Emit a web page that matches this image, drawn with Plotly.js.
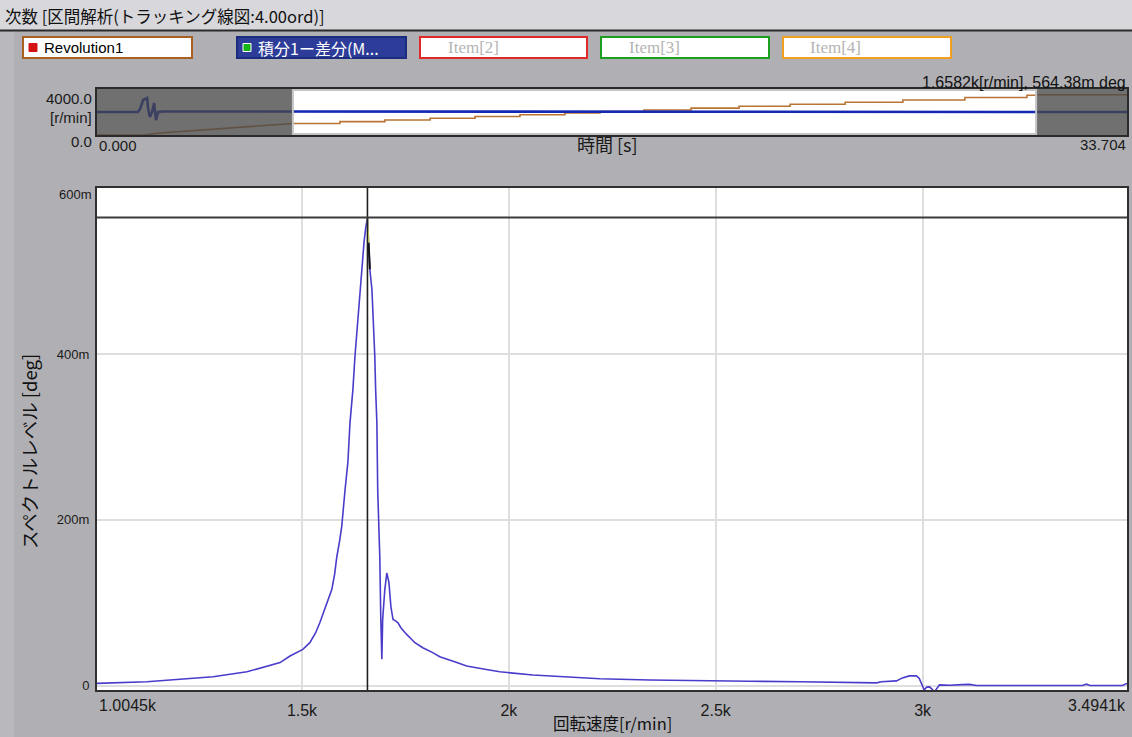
<!DOCTYPE html>
<html><head><meta charset="utf-8">
<script src="https://cdn.plot.ly/plotly-3.0.1.min.js"></script>
<style>html,body{margin:0;padding:0;background:#b0b0b4;overflow:hidden}#chart{width:1132px;height:737px}</style>
</head><body><div id="chart"></div>
<script>
// ---------- text ----------
const chartTitle = '次数 [区間解析(トラッキング線図:4.00ord)]';
const xTitle = '回転速度[r/min]';
const yTitle = 'スペクトルレベル [deg]';
const readout = '1.6582k[r/min], 564.38m deg';
const legendNames = ['Revolution1', '積分1ー差分(M...', 'Item[2]', 'Item[3]', 'Item[4]'];

// ---------- main spectrum (r/min vs mdeg) ----------
const speedRpm = [1004.5, 1060, 1125, 1205, 1285, 1367, 1415, 1447, 1471, 1488, 1502, 1519, 1533, 1543, 1555, 1567, 1572, 1579, 1584, 1591, 1596, 1604, 1611, 1616, 1623, 1628, 1635, 1640, 1645, 1650, 1654, 1658.2, 1661, 1664, 1669, 1674, 1676, 1678, 1681, 1683, 1686, 1688, 1690.5, 1693, 1695, 1700, 1705, 1710, 1715, 1720, 1727, 1732, 1739, 1753, 1773, 1792, 1816, 1833, 1869, 1898, 1942, 1978, 2058, 2140, 2220, 2340, 2461, 2582, 2703, 2823, 2889, 2900, 2915, 2937, 2951, 2968, 2985, 2992, 3004, 3010, 3017, 3023, 3029, 3041, 3065, 3096, 3113, 3130, 3200, 3300, 3386, 3396, 3405, 3483, 3494.1];
const levelMdeg = [3, 4, 5, 8, 11, 17, 24, 28, 36, 40, 44, 52, 64, 76, 92, 107, 116, 135, 155, 175, 192, 236, 270, 317, 357, 397, 440, 478, 510, 535, 552, 564.38, 534, 502, 478, 430, 397, 357, 317, 236, 195, 156, 80, 32, 80, 115, 136, 125, 95, 80, 78, 76, 70, 62, 52, 46, 40, 35, 29, 24, 20, 17, 13, 11, 8.5, 7, 6, 5.5, 5, 4.5, 3.6, 5, 5.5, 6, 9.6, 12, 12, 9, -5, -1.5, -1.2, -4, -7, 1.2, 0.8, 1.5, 1.8, 0.5, 0.5, 0.5, 0.5, 2, 0.5, 0.5, 3];
const xMin = 1004.5, xMax = 3494.1;
const xTickVals = [1500, 2000, 2500, 3000];
const xTickText = ['1.5k', '2k', '2.5k', '3k'];
const xEndLabels = ['1.0045k', '3.4941k'];
const yMin = -5, yMax = 600;
const yTickVals = [0, 200, 400];
const yTickText = ['0', '200m', '400m'];
const yTopLabel = '600m';
const cursorRpm = 1658.2, cursorLevel = 564.38;

// ---------- overview (time vs r/min) ----------
const timeMax = 33.704, rpmMax = 4000;
const selStart = 6.41, selEnd = 30.73;
const revTime = [0, 1.5, 2.06, 3.37, 5.0, 6.41, 7.95, 9.42, 10.90, 12.37, 13.84, 15.31, 16.46, 17.90, 19.44, 21.01, 22.68, 24.48, 26.37, 28.40, 30.43, 30.73, 33.704];
const revRpm = [0, 0, 174, 435, 760, 1005, 1160, 1310, 1460, 1610, 1760, 1910, 2030, 2180, 2340, 2500, 2670, 2850, 3045, 3255, 3460, 3494, 3520];
const intTime = [0, 1.34, 1.41, 1.51, 1.64, 1.67, 1.73, 1.80, 1.87, 1.93, 2.00, 2.16, 33.704];
const intValue = [2000, 2000, 2260, 3040, 3217, 2350, 1565, 2000, 2780, 1300, 2000, 2050, 2000];
const ovYLabels = ['4000.0', '[r/min]', '0.0'];
const ovXLabels = ['0.000', '時間 [s]', '33.704'];

// ---------- geometry helpers (pixel -> paper) ----------
const W = 1132, H = 737, ML = 97, MR = 5, MT = 89, MB = 47;
const PW = W - ML - MR, PH = H - MT - MB;
const px = v => (v - ML) / PW;
const py = v => (H - MB - v) / PH;

const latin = 'Liberation Sans, Arial, sans-serif';
const cjk = 'Noto Sans CJK JP, Liberation Sans, sans-serif';
const serif = 'Liberation Serif, serif';

const peakIdx = levelMdeg.indexOf(Math.max(...levelMdeg));
const rampEnd = revTime.indexOf(selStart);

const traces = [
  {x: speedRpm, y: levelMdeg, xaxis: 'x', yaxis: 'y', mode: 'lines',
   line: {color: '#4a3ccb', width: 1.6}, hoverinfo: 'x+y'},
  {x: speedRpm.slice(peakIdx, peakIdx + 2), y: levelMdeg.slice(peakIdx, peakIdx + 2), xaxis: 'x', yaxis: 'y',
   mode: 'lines', line: {color: '#e8e860', width: 1.6}, hoverinfo: 'skip'},
  {x: speedRpm.slice(peakIdx + 1, peakIdx + 3), y: levelMdeg.slice(peakIdx + 1, peakIdx + 3), xaxis: 'x', yaxis: 'y',
   mode: 'lines', line: {color: '#101010', width: 2}, hoverinfo: 'skip'},
  {x: revTime.slice(0, rampEnd + 1), y: revRpm.slice(0, rampEnd + 1), xaxis: 'x2', yaxis: 'y2', mode: 'lines',
   line: {color: '#b87434', width: 1.6}, hoverinfo: 'skip'},
  {x: revTime.slice(rampEnd), y: revRpm.slice(rampEnd), xaxis: 'x2', yaxis: 'y2', mode: 'lines',
   line: {color: '#b87434', width: 1.6, shape: 'hv'}, hoverinfo: 'skip'},
  {x: intTime, y: intValue, xaxis: 'x2', yaxis: 'y2', mode: 'lines',
   line: {color: '#1428b4', width: 2.6}, hoverinfo: 'skip'}
];

const shapes = [
  // title bar
  {type: 'rect', xref: 'paper', yref: 'paper', x0: px(0), x1: px(W), y0: py(0), y1: py(30),
   fillcolor: '#d8d8dc', line: {width: 0}, layer: 'below'},
  {type: 'line', xref: 'paper', yref: 'paper', x0: px(0), x1: px(W), y0: py(30.5), y1: py(30.5),
   line: {color: '#2a2a2a', width: 2}},
  {type: 'rect', xref: 'paper', yref: 'paper', x0: px(0), x1: px(14), y0: py(32), y1: py(H),
   fillcolor: '#b9b9bd', line: {width: 0}, layer: 'below'},
  // overview shading
  {type: 'rect', xref: 'x2', yref: 'y2 domain', x0: 0, x1: selStart, y0: 0, y1: 1,
   fillcolor: 'rgba(72,72,72,0.78)', line: {width: 0}, layer: 'above'},
  {type: 'rect', xref: 'x2', yref: 'y2 domain', x0: selEnd, x1: timeMax, y0: 0, y1: 1,
   fillcolor: 'rgba(72,72,72,0.78)', line: {width: 0}, layer: 'above'},
  {type: 'rect', xref: 'x2', yref: 'y2 domain', x0: selStart, x1: selEnd, y0: 0.02, y1: 0.98,
   line: {color: '#c4c4c4', width: 2}, layer: 'above'},
  // cursor
  {type: 'line', xref: 'x', yref: 'y domain', x0: cursorRpm, x1: cursorRpm, y0: 0, y1: 1,
   line: {color: '#202020', width: 1.6}},
  {type: 'line', xref: 'x domain', yref: 'y', x0: 0, x1: 1, y0: cursorLevel, y1: cursorLevel,
   line: {color: '#3c3c3c', width: 2}}
];

// legend boxes
const boxX = [[23, 192], [237, 406], [420, 587], [601, 769], [783, 951]];
const boxBorder = ['#a86020', '#1c2c7c', '#e02828', '#1e9e1e', '#f0a020'];
const boxFill = ['#ffffff', '#2c3c98', '#ffffff', '#ffffff', '#ffffff'];
const boxText = ['#000000', '#ffffff', '#b4b4b4', '#b4b4b4', '#b4b4b4'];
const markColor = ['#d41414', '#14b414'];
boxX.forEach((b, i) => {
  shapes.push({type: 'rect', xref: 'paper', yref: 'paper', x0: px(b[0]), x1: px(b[1]), y0: py(37), y1: py(58),
    fillcolor: boxFill[i], line: {color: boxBorder[i], width: 2}});
  if (i < 2) shapes.push({type: 'rect', xref: 'paper', yref: 'paper', x0: px(b[0] + 6), x1: px(b[0] + 14),
    y0: py(43.5), y1: py(51.5), fillcolor: markColor[i], line: {color: i === 1 ? '#ffffff' : markColor[i], width: 1}});
});

const ann = (text, x, y, xa, family, size, color, extra) => Object.assign({text, xref: 'paper', yref: 'paper',
  x: px(x), y: py(y), xanchor: xa, yanchor: 'middle', showarrow: false,
  font: {family, size, color}}, extra || {});

const annotations = [
  ann(chartTitle, 3, 16, 'left', cjk, 16.5, '#111'),
  ann(readout, 1128, 82, 'right', latin, 16, '#111'),
  ann(legendNames[0], 42, 47.5, 'left', latin, 15, boxText[0]),
  ann(legendNames[1], 256, 47.5, 'left', cjk, 16, boxText[1]),
  ann(legendNames[2], 446, 47.5, 'left', serif, 17, boxText[2]),
  ann(legendNames[3], 627, 47.5, 'left', serif, 17, boxText[3]),
  ann(legendNames[4], 808, 47.5, 'left', serif, 17, boxText[4]),
  ann(ovYLabels[0], 94, 99, 'right', latin, 15, '#1a1a1a'),
  ann(ovYLabels[1], 94, 118, 'right', latin, 15, '#1a1a1a'),
  ann(ovYLabels[2], 94, 141, 'right', latin, 15, '#1a1a1a'),
  ann(ovXLabels[0], 97, 145, 'left', latin, 15, '#1a1a1a'),
  ann(ovXLabels[1], 607, 144, 'center', cjk, 18, '#1a1a1a'),
  ann(ovXLabels[2], 1128, 144, 'right', latin, 15, '#1a1a1a'),
  ann(yTopLabel, 94, 195, 'right', latin, 13, '#1a1a1a'),
  ann(xEndLabels[0], 97, 705, 'left', latin, 16, '#1a1a1a'),
  ann(xEndLabels[1], 1128, 705, 'right', latin, 16, '#1a1a1a'),
  ann(xTitle, 612, 723, 'center', cjk, 16.5, '#111'),
  ann(yTitle, 29, 452, 'center', cjk, 18.5, '#111', {textangle: -90})
];

const layout = {
  width: W, height: H,
  margin: {l: ML, r: MR, t: MT, b: MB, pad: 0},
  paper_bgcolor: '#b0b0b4', plot_bgcolor: '#ffffff',
  showlegend: false,
  font: {family: latin, size: 14, color: '#1a1a1a'},
  xaxis: {domain: [0, 1], anchor: 'y', range: [xMin, xMax], tickvals: xTickVals, ticktext: xTickText,
    showgrid: true, gridcolor: '#dedede', gridwidth: 1.5, zeroline: false, showline: true, mirror: true,
    linecolor: '#303030', linewidth: 2, ticks: '', ticklabelstandoff: 5,
    tickfont: {family: latin, size: 16, color: '#1a1a1a'}},
  yaxis: {domain: [0, py(188)], anchor: 'x', range: [yMin, yMax], tickvals: yTickVals, ticktext: yTickText,
    showgrid: true, gridcolor: '#dedede', gridwidth: 1.5, zeroline: false, showline: true, mirror: true,
    linecolor: '#303030', linewidth: 2, ticks: '', ticklabelstandoff: 3,
    tickfont: {family: latin, size: 13, color: '#1a1a1a'}},
  xaxis2: {domain: [0, 1], anchor: 'y2', range: [0, timeMax], showticklabels: false, showgrid: false,
    zeroline: false, showline: true, mirror: true, linecolor: '#2a2a2a', linewidth: 1.5, ticks: ''},
  yaxis2: {domain: [py(135), py(89)], anchor: 'x2', range: [0, rpmMax], showticklabels: false, showgrid: false,
    zeroline: false, showline: true, mirror: true, linecolor: '#2a2a2a', linewidth: 1.5, ticks: ''},
  shapes, annotations
};

Plotly.newPlot('chart', traces, layout, {displayModeBar: false, responsive: false});
</script></body></html>
